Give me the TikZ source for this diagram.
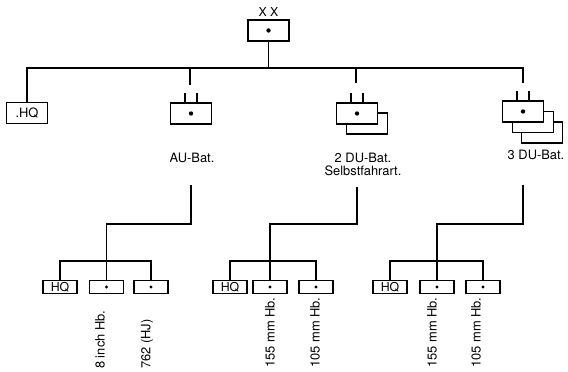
\documentclass[tikz,border=0pt]{standalone}
\usepackage{fontspec}
\setmainfont{TeX Gyre Heros}
\usetikzlibrary{positioning}

\begin{document}
\begin{tikzpicture}[
    x=0.3mm, y=-0.3mm,
    every node/.style={font=\fontsize{10}{12}\selectfont, inner sep=0pt, align=center},
    unit/.style    ={draw, line width=0.9pt, fill=white, minimum width=12.3mm, minimum height=6.3mm},
    battery/.style ={draw, line width=0.9pt, fill=white, minimum width=10.2mm, minimum height=3.8mm},
    batlabel/.style={font=\fontsize{11}{11.5}\selectfont},
    gunlabel/.style={rotate=90, anchor=west, font=\fontsize{11}{12}\selectfont},
    link/.style    ={line width=0.9pt}
]
\useasboundingbox (0,0) rectangle (568,372);

% ========== TOP: Division ==========
\node[unit] (div) at (268.5,30.5) {};
\node[above=0.9mm of div, font=\fontsize{10.5}{12}\selectfont] (divmark) {X X};

% ========== ROW 1: Battalions ==========
\node[unit, font=\fontsize{11}{12}\selectfont] (hq) at (27,113) {.HQ};
\node[unit] (au) at (191,113.5) {};

\node[unit] (du2back) at (367,123.5) {};
\node[unit] (du2) at (357,113.5) {};

\node[unit] (du3c) at (542,132.5) {};
\node[unit] (du3b) at (533,122) {};
\node[unit] (du3)  at (523,111.5) {};

% Battalion labels
\node[batlabel] (aulab)  at (192,158) {AU-Bat.};
\node[batlabel] (du2lab) at (363,164.5) {2 DU-Bat.\\Selbstfahrart.};
\node[batlabel] (du3lab) at (536,155) {3 DU-Bat.};

% ========== ROW 2: Batteries ==========
\node[battery, font=\fontsize{10.5}{12}\selectfont] (hq1) at (60,287) {HQ};
\node[battery] (h8)   at (106.5,287) {};
\node[battery] (h762) at (151,287)   {};

\node[battery, font=\fontsize{10.5}{12}\selectfont] (hq2) at (230,287) {HQ};
\node[battery] (h155a) at (270,287) {};
\node[battery] (h105a) at (316,287) {};

\node[battery, font=\fontsize{10.5}{12}\selectfont] (hq3) at (390,287) {HQ};
\node[battery] (h155b) at (437,287) {};
\node[battery] (h105b) at (483,287) {};

% Dots
\foreach \u in {div, au, du2, du3} \fill (\u.center) circle (0.65mm);
\foreach \u in {h8, h762, h155a, h105a, h155b, h105b} \fill (\u.center) circle (0.5mm);

% Gun labels
\node[gunlabel] (l8)    at (100,369) {8 inch Hb.};
\node[gunlabel] (l762)  at (147,369) {762 (HJ)};
\node[gunlabel] (l155a) at (270,368) {155 mm Hb.};
\node[gunlabel] (l105a) at (315,368) {105 mm Hb.};
\node[gunlabel] (l155b) at (432,368) {155 mm Hb.};
\node[gunlabel] (l105b) at (476,368) {105 mm Hb.};

% ========== CONNECTORS ==========
\coordinate (bus)     at (0,68);
\coordinate (au-in)   at (190,85);
\coordinate (du2-in)  at (356,83);
\coordinate (du3-in)  at (523,83);
\coordinate (au-out)  at (191,185);
\coordinate (du2-out) at (357,187);
\coordinate (du3-out) at (523,185);
\coordinate (jog)     at (0,224);
\coordinate (sub)     at (0,261);

% Battalion ticks
\foreach \u in {au, du2, du3} {
    \draw[link] ([xshift=-1.8mm]\u.north) -- ++(0,-9);
    \draw[link] ([xshift=1.8mm]\u.north)  -- ++(0,-9);
}

% Division -> battalions
\draw[link] (div.south) -- (div.south |- bus);
\draw[link] (hq.north) -- (hq.north |- bus) -- (du3-in |- bus) -- (du3-in);
\draw[link] (au-in)  -- (au-in |- bus);
\draw[link] (du2-in) -- (du2-in |- bus);

% Battalions -> batteries
\draw[link] (au-out)  |- (h8.north |- jog)    -- (h8.north);
\draw[link] (du2-out) |- (h155a.north |- jog) -- (h155a.north);
\draw[link] (du3-out) |- (h155b.north |- jog) -- (h155b.north);

\draw[link] (hq1.north) |- (h762.north |- sub)  -- (h762.north);
\draw[link] (hq2.north) |- (h105a.north |- sub) -- (h105a.north);
\draw[link] (hq3.north) |- (h105b.north |- sub) -- (h105b.north);

\end{tikzpicture}
\end{document}
